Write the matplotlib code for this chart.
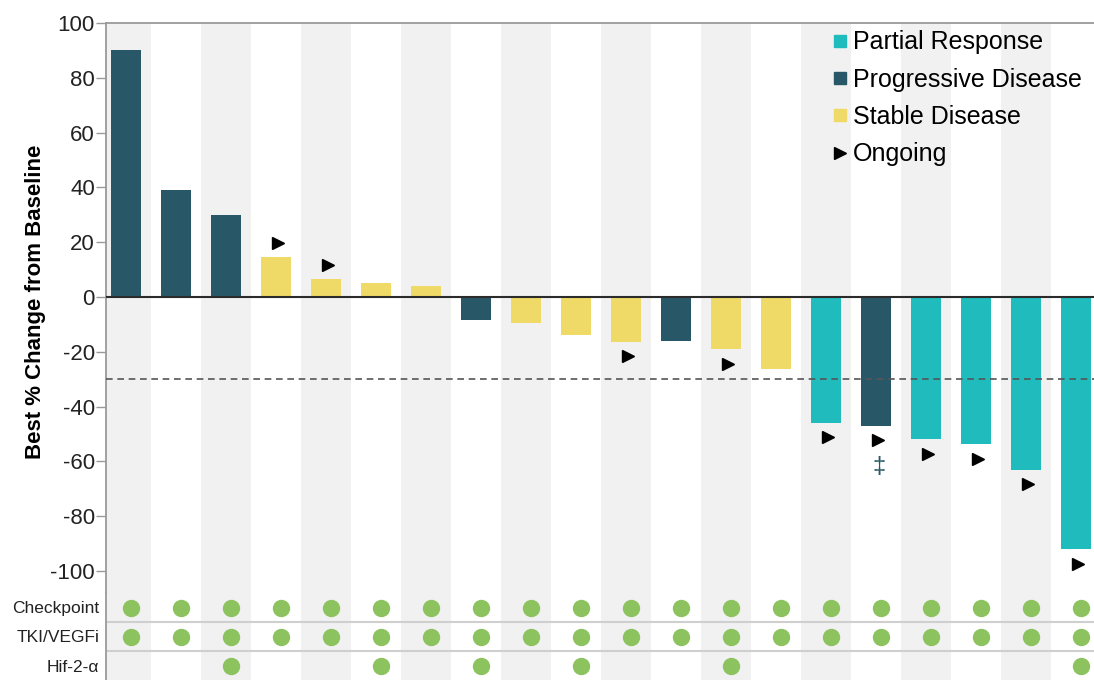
import matplotlib
matplotlib.use("Agg")
import matplotlib.pyplot as plt
from matplotlib.lines import Line2D

plt.rcParams["font.family"] = ["Liberation Sans", "DejaVu Sans"]
plt.rcParams["axes.unicode_minus"] = False

# Best % change from baseline per patient, sorted from largest growth to largest shrinkage
best_change = [90, 39, 30, 14.5, 6.5, 5.1, 4.0, -8.2, -9.4, -13.7, -16.3, -16.2,
               -19.1, -26.2, -45.8, -47.1, -51.9, -53.8, -63.2, -92.1]
response = ["PD", "PD", "PD", "SD", "SD", "SD", "SD", "PD", "SD", "SD", "SD", "PD",
            "SD", "SD", "PR", "PD", "PR", "PR", "PR", "PR"]
ongoing = [3, 4, 10, 12, 14, 15, 16, 17, 18, 19]
double_dagger = [15]

# Prior therapy received by each patient (column indices)
therapy_rows = ["Checkpoint", "TKI/VEGFi", "Hif-2-\u03b1"]
checkpoint_idx = list(range(20))
tki_idx = list(range(20))
hif_idx = [2, 5, 7, 9, 12, 19]

legend_labels = ["Partial Response", "Progressive Disease", "Stable Disease", "Ongoing"]

colors = {"PR": "#1FBBBD", "PD": "#285868", "SD": "#EFDA68"}
dot_green = "#8DC35F"
stripe = "#F1F1F1"
spine_gray = "#9A9A9A"

W, H = 1094, 680
fig = plt.figure(figsize=(W / 100, H / 100), dpi=100)

left_px, top_px, split_px = 106, 23, 593
ax = fig.add_axes([left_px / W, 1 - split_px / H, (W - left_px) / W, (split_px - top_px) / H])
ax2 = fig.add_axes([left_px / W, 0, (W - left_px) / W, (H - split_px) / H])

n = len(best_change)
x = list(range(n))
xlim = (-0.4, 19.36)

for a in (ax, ax2):
    for i in range(0, n, 2):
        a.axvspan(i - 0.5, i + 0.5, color=stripe, lw=0, zorder=0)
    a.set_xlim(*xlim)
    a.set_xticks([])
    for s in ("right", "bottom"):
        a.spines[s].set_visible(False)
    a.spines["left"].set_color(spine_gray)
    a.spines["left"].set_linewidth(1.3)

# Waterfall bars
ax.bar(x, best_change, width=0.6, color=[colors[r] for r in response], zorder=2)
ax.axhline(0, color="#2b2b2b", lw=1.5, zorder=3)
ax.axhline(-30, color="#555555", lw=1.2, ls=(0, (4, 2.8)), zorder=3)

ax.set_ylim(-108.0, 100)
ax.set_yticks(range(-100, 101, 20))
ax.tick_params(axis="y", labelsize=16, length=7, width=1, color=spine_gray,
               pad=1, labelcolor="#222222")
ax.spines["top"].set_color(spine_gray)
ax.spines["top"].set_linewidth(1.3)
ax.set_ylabel("Best % Change from Baseline", fontsize=16, fontweight="bold")
ax.yaxis.set_label_coords(-0.0608, 0.511)

# Ongoing markers sit just past the end of each bar
off = 5.2
for i in ongoing:
    v = best_change[i]
    y = v + off if v > 0 else v - off
    ax.plot(i + 0.04, y, marker=">", ls="", color="black", ms=8, zorder=4)
for i in double_dagger:
    ax.text(i + 0.06, best_change[i] - 14.8, "\u2021", color=colors["PD"],
            fontsize=17, ha="center", va="center", zorder=4)

# Prior therapy grid
ax2.set_ylim(0, 3)
ax2.spines["top"].set_visible(False)
row_y = {"Checkpoint": 2.5, "TKI/VEGFi": 1.5, "Hif-2-\u03b1": 0.5}
ax2.set_yticks([row_y[r] for r in therapy_rows])
ax2.set_yticklabels(therapy_rows)
ax2.tick_params(axis="y", length=0, pad=5, labelsize=12.5, labelcolor="#222222")
ax2.axhline(2, color="#CFCFCF", lw=1.5, zorder=1)
ax2.axhline(1, color="#CFCFCF", lw=1.5, zorder=1)
for name, idx in zip(therapy_rows, [checkpoint_idx, tki_idx, hif_idx]):
    ax2.plot([i + 0.1 for i in idx], [row_y[name]] * len(idx), marker="o", ls="",
             color=dot_green, ms=11.5, zorder=3)

handles = [
    Line2D([], [], marker="s", ls="", color=colors["PR"], ms=9),
    Line2D([], [], marker="s", ls="", color=colors["PD"], ms=9),
    Line2D([], [], marker="s", ls="", color=colors["SD"], ms=9),
    Line2D([], [], marker=">", ls="", color="black", ms=8),
]
fig.legend(handles, legend_labels, loc="upper left",
           bbox_to_anchor=(832 / W, 1 - 30.5 / H), frameon=False, fontsize=18,
           handlelength=0.6, handletextpad=0.25, labelspacing=0.53,
           borderpad=0, borderaxespad=0)

fig.savefig("out.png", dpi=100)
